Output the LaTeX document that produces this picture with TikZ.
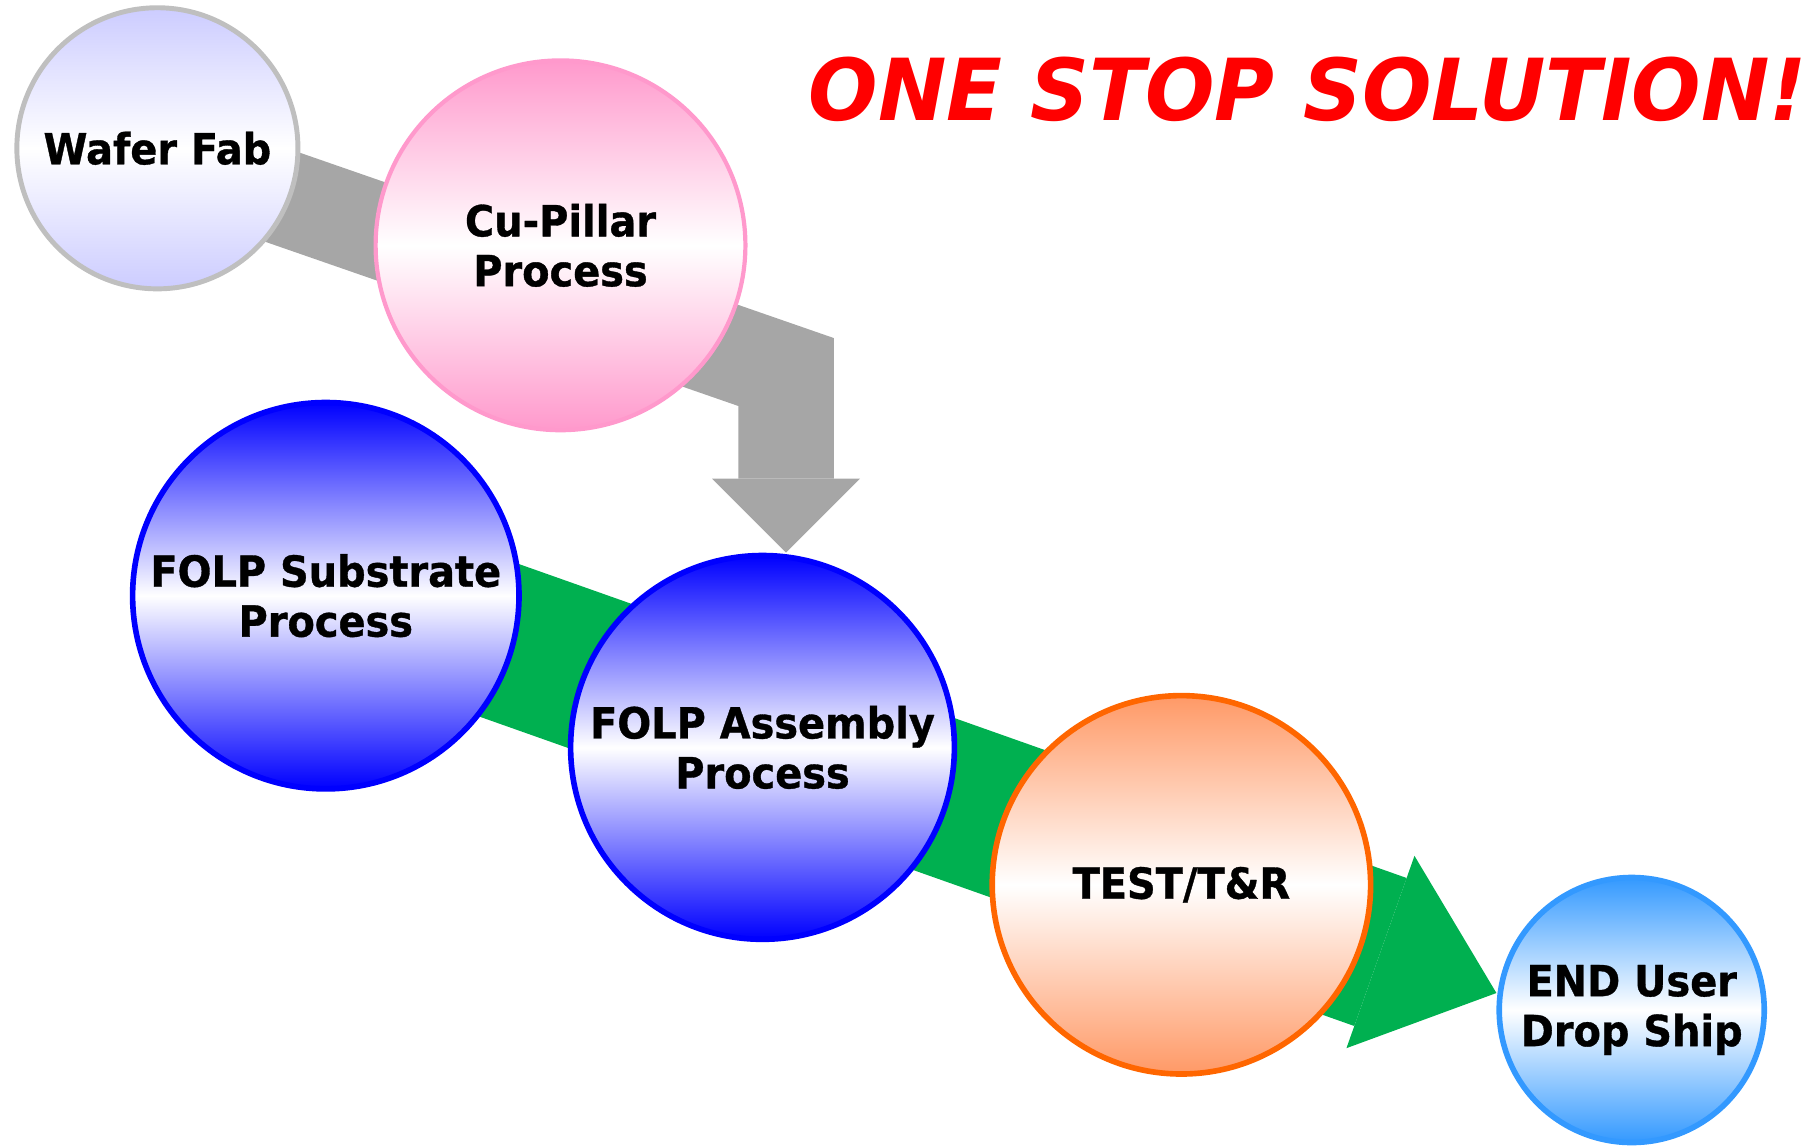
\documentclass[tikz,border=0pt]{standalone}
\usepackage{fontspec}
\setmainfont{DejaVu Sans}[FakeStretch=0.93,BoldFeatures={FakeBold=0.8}]
\usepackage{tikz}
\usetikzlibrary{positioning}
\usetikzlibrary{arrows.meta}
\usetikzlibrary{backgrounds}

\definecolor{waferbd}{HTML}{BFBFBF}
\definecolor{wafertop}{HTML}{CCCCFF}
\definecolor{cupink}{HTML}{FF99CC}
\definecolor{folpblue}{HTML}{0000FF}
\definecolor{testtop}{HTML}{FF9966}
\definecolor{testbd}{HTML}{FF6600}
\definecolor{userblue}{HTML}{3399FF}
\definecolor{flowgreen}{HTML}{00B050}
\definecolor{flowgray}{HTML}{A6A6A6}
\definecolor{slogred}{HTML}{FF0000}

\begin{document}
\begin{tikzpicture}[scale=1,
	proc/.style={circle,draw,inner sep=0pt,align=center,on grid,
		font=\fontsize{12.2}{14.2}\selectfont\bfseries},
	tint/.style={top color=#1,bottom color=#1,middle color=white},
	grayflow/.style={draw=flowgray,line width=0.955cm,line join=miter,
		-{Triangle[length=0.74cm,width=1.48cm,line width=0pt]}},
	greenflow/.style={draw=flowgreen,line width=1.57cm,
		-{Triangle[length=1.23cm,width=2.04cm,line width=0pt]}}
	]
	\useasboundingbox (0,0) rectangle (18.17,-11.46);

	\node [proc,tint=wafertop,draw=waferbd,line width=1.4pt,minimum size=2.811cm] (wafer)	at (1.574,-1.483)	{Wafer Fab};
	\node [proc,tint=cupink,draw=cupink,line width=1.2pt,minimum size=3.698cm] (cupillar)	[below right=0.97cm and 4.031cm of wafer]	{Cu-Pillar \\ Process};
	\node [proc,tint=folpblue,draw=folpblue,line width=1.6pt,minimum size=3.864cm] (substrate)	[below left=3.504cm and 2.347cm of cupillar]	{FOLP Substrate \\ Process};
	\node [proc,tint=folpblue,draw=folpblue,line width=1.6pt,minimum size=3.838cm] (assembly)	[below right=1.517cm and 4.367cm of substrate]	{FOLP Assembly \\ Process};
	\node [proc,tint=testtop,draw=testbd,line width=1.6pt,minimum size=3.784cm] (test)	[below right=1.374cm and 4.189cm of assembly]	{TEST/T\&R};
	\node [proc,tint=userblue,draw=userblue,line width=1.6pt,minimum size=2.650cm] (enduser)	[below right=1.252cm and 4.503cm of test]	{END User \\ Drop Ship};

	\node [anchor=base west,inner sep=0pt,text=slogred] (slogan) at (8.08,-1.207)
		{\resizebox{9.98cm}{0.635cm}{\bfseries\itshape ONE STOP SOLUTION!}};

	\coordinate (gstart)	at ([yshift=-0.055cm]wafer.center);
	\coordinate (gtip)	at ([xshift=0.235cm]assembly.north);
	\coordinate (gbend)	at (gtip |- 0,-3.72);
	\coordinate (fstart)	at ([yshift=0.167cm]substrate.center);
	\coordinate (ftip)	at ([yshift=0.17cm]enduser.west);

	\begin{pgfonlayer}{background}
		\draw [grayflow]	(gstart) -- (gbend) -- (gtip);
		\draw [greenflow]	(fstart) -- (ftip);
	\end{pgfonlayer}

\end{tikzpicture}
\end{document}
